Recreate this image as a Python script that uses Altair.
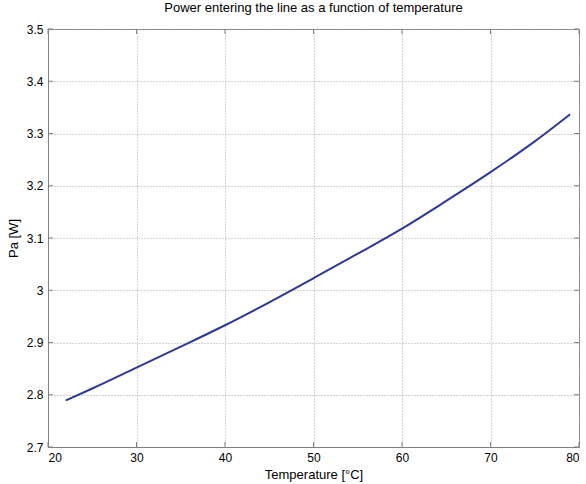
import altair as alt
import pandas as pd

temperature = [22, 25, 30, 35, 40, 45, 50, 55, 60, 65, 70, 75, 79]
power = [2.789, 2.812, 2.852, 2.892, 2.933, 2.977, 3.023, 3.070, 3.118, 3.171, 3.226, 3.285, 3.337]
x_ticks = [20, 30, 40, 50, 60, 70, 80]
y_ticks = [2.7, 2.8, 2.9, 3.0, 3.1, 3.2, 3.3, 3.4, 3.5]

W, H = 531, 418
FONT = "Liberation Sans"

df = pd.DataFrame({"T": temperature, "P": power})
xt = pd.DataFrame({"v": x_ticks})
yt = pd.DataFrame({"v": y_ticks})

xscale = alt.Scale(domain=[20, 80], nice=False, zero=False)
yscale = alt.Scale(domain=[2.7, 3.5], nice=False, zero=False)

common = dict(format="~g", grid=True, gridDash=[1, 2], gridColor="#a8a8a8",
              tickSize=0, labelPadding=5, domainColor="#808080",
              labelFont=FONT, titleFont=FONT, labelFontSize=12, titleFontSize=13,
              labelColor="#000000", titleColor="#000000", titleFontWeight="normal")

line = alt.Chart(df).mark_line(color="#2e379e", strokeWidth=2, interpolate="monotone").encode(
    x=alt.X("T:Q", scale=xscale,
            axis=alt.Axis(values=x_ticks, title="Temperature [°C]",
                          titleY=27, titleBaseline="middle", **common)),
    y=alt.Y("P:Q", scale=yscale,
            axis=alt.Axis(values=y_ticks, title="Pa [W]",
                          titleX=-35, titleBaseline="middle", **common)),
)

tick_color = "#808080"
xb = alt.Chart(xt).mark_rule(color=tick_color).encode(x=alt.X("v:Q", scale=xscale), y=alt.value(H), y2=alt.value(H - 5))
xtp = alt.Chart(xt).mark_rule(color=tick_color).encode(x=alt.X("v:Q", scale=xscale), y=alt.value(0), y2=alt.value(5))
yl = alt.Chart(yt).mark_rule(color=tick_color).encode(y=alt.Y("v:Q", scale=yscale), x=alt.value(0), x2=alt.value(5))
yr = alt.Chart(yt).mark_rule(color=tick_color).encode(y=alt.Y("v:Q", scale=yscale), x=alt.value(W), x2=alt.value(W - 5))

chart = alt.layer(xb, xtp, yl, yr, line).properties(
    width=W, height=H,
    background="white",
    title=alt.TitleParams("Power entering the line as a function of temperature",
                          fontSize=13, font=FONT, fontWeight="normal", offset=8, color="#000000"),
    padding={"left": 48, "top": 29, "right": 7, "bottom": 37},
    autosize="none",
).configure_view(stroke="#808080", strokeWidth=1)

chart.save("out.html", embed_options={"renderer": "svg", "actions": False})
